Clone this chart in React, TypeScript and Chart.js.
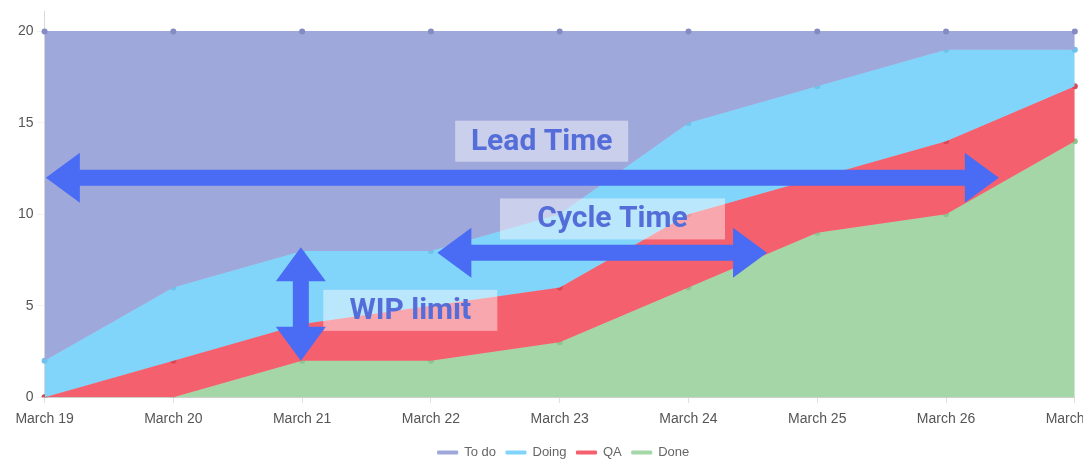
import React, { useEffect, useRef } from "react";
import { Chart, registerables } from "chart.js";

Chart.register(...registerables);

// ---- data (cumulative totals) ----
const categories = [
  "March 19",
  "March 20",
  "March 21",
  "March 22",
  "March 23",
  "March 24",
  "March 25",
  "March 26",
  "March 27",
];
const todoValues = [20, 20, 20, 20, 20, 20, 20, 20, 20];
const doingValues = [2, 6, 8, 8, 10, 15, 17, 19, 19];
const qaValues = [0, 2, 4, 5, 6, 10, 12, 14, 17];
const doneValues = [0, 0, 2, 2, 3, 6, 9, 10, 14];
const seriesNames = ["To do", "Doing", "QA", "Done"];
const yTickValues = [0, 5, 10, 15, 20];

// annotation arrows in data space (x = category index, y = value)
const arrowNames = ["Lead Time", "Cycle Time", "WIP limit"];
const arrowFromX = [0.01, 3.05, 1.99];
const arrowFromY = [12, 7.9, 8.2];
const arrowToX = [7.41, 5.61, 1.99];
const arrowToY = [12, 7.9, 2.0];

// annotation labels in data space
const noteTexts = ["Lead Time", "Cycle Time", "WIP limit"];
const noteX = [3.86, 4.41, 2.84];
const noteY = [14.0, 9.75, 4.75];

const COLORS = {
  todo: "#9fa8da",
  doing: "#81d4fa",
  qa: "#f5606e",
  done: "#a5d6a7",
};
const POINT_COLORS = ["#858cc4", "#6cc3ec", "#dc4656", "#8cc690"];
const NOTE_BOX_W = [173, 225, 174];
const ARROW_COLOR = "#4a6cf4";
const TEXT_COLOR = "#556dd8";

function drawArrow(
  ctx: CanvasRenderingContext2D,
  x1: number,
  y1: number,
  x2: number,
  y2: number,
  shaft: number,
  headLen: number,
  headHalf: number
) {
  const dx = x2 - x1;
  const dy = y2 - y1;
  const len = Math.hypot(dx, dy);
  const ux = dx / len;
  const uy = dy / len;
  const nx = -uy;
  const ny = ux;
  const pts: [number, number][] = [
    [x1, y1],
    [x1 + ux * headLen + nx * headHalf, y1 + uy * headLen + ny * headHalf],
    [x1 + ux * headLen + nx * shaft, y1 + uy * headLen + ny * shaft],
    [x2 - ux * headLen + nx * shaft, y2 - uy * headLen + ny * shaft],
    [x2 - ux * headLen + nx * headHalf, y2 - uy * headLen + ny * headHalf],
    [x2, y2],
    [x2 - ux * headLen - nx * headHalf, y2 - uy * headLen - ny * headHalf],
    [x2 - ux * headLen - nx * shaft, y2 - uy * headLen - ny * shaft],
    [x1 + ux * headLen - nx * shaft, y1 + uy * headLen - ny * shaft],
    [x1 + ux * headLen - nx * headHalf, y1 + uy * headLen - ny * headHalf],
  ];
  ctx.beginPath();
  ctx.moveTo(pts[0][0], pts[0][1]);
  for (let i = 1; i < pts.length; i++) ctx.lineTo(pts[i][0], pts[i][1]);
  ctx.closePath();
  ctx.fillStyle = ARROW_COLOR;
  ctx.fill();
}

const notesPlugin = {
  id: "flowNotes",
  afterDraw(chart: any) {
    const ctx: CanvasRenderingContext2D = chart.ctx;
    const xs = chart.scales.x;
    const ys = chart.scales.y;
    ctx.save();
    for (let i = 0; i < noteTexts.length; i++) {
      const cx = xs.getPixelForValue(noteX[i]);
      const cy = ys.getPixelForValue(noteY[i]);
      const w = NOTE_BOX_W[i];
      const h = 41;
      ctx.fillStyle = "rgba(255,255,255,0.45)";
      ctx.fillRect(cx - w / 2, cy - h / 2, w, h);
    }
    for (let i = 0; i < arrowNames.length; i++) {
      const x1 = xs.getPixelForValue(arrowFromX[i]);
      const y1 = ys.getPixelForValue(arrowFromY[i]);
      const x2 = xs.getPixelForValue(arrowToX[i]);
      const y2 = ys.getPixelForValue(arrowToY[i]);
      drawArrow(ctx, x1, y1, x2, y2, 8, 34, 25);
    }
    ctx.font = "bold 30px Roboto, 'Liberation Sans', sans-serif";
    ctx.textAlign = "center";
    ctx.textBaseline = "middle";
    ctx.fillStyle = TEXT_COLOR;
    for (let i = 0; i < noteTexts.length; i++) {
      const cx = xs.getPixelForValue(noteX[i]);
      const cy = ys.getPixelForValue(noteY[i]);
      ctx.fillText(noteTexts[i], cx, cy + 1);
    }
    ctx.restore();
  },
};

export default function App() {
  const canvasRef = useRef<HTMLCanvasElement | null>(null);

  useEffect(() => {
    const canvas = canvasRef.current;
    if (!canvas) return;
    const base = (label: string, data: number[], color: string, pc: string, fill: any) => ({
      label,
      data,
      backgroundColor: color,
      borderColor: color,
      borderWidth: 1,
      fill,
      pointRadius: 3,
      pointBackgroundColor: pc,
      pointBorderColor: pc,
      pointBorderWidth: 0,
      tension: 0,
    });
    const chart = new Chart(canvas, {
      type: "line",
      data: {
        labels: categories,
        datasets: [
          base(seriesNames[0], todoValues, COLORS.todo, POINT_COLORS[0], "+1"),
          base(seriesNames[1], doingValues, COLORS.doing, POINT_COLORS[1], "+1"),
          base(seriesNames[2], qaValues, COLORS.qa, POINT_COLORS[2], "+1"),
          base(seriesNames[3], doneValues, COLORS.done, POINT_COLORS[3], "origin"),
        ],
      },
      options: {
        responsive: false,
        animation: false,
        layout: { padding: { left: 15, top: 0, right: 0, bottom: -8 } },
        plugins: {
          legend: {
            position: "bottom",
            labels: {
              boxWidth: 20,
              boxHeight: 3,
              padding: 10,
              color: "#666",
              font: { family: "'Liberation Sans', Arial, sans-serif", size: 13 },
            },
          },
          tooltip: { enabled: false },
        },
        scales: {
          x: {
            grid: {
              drawOnChartArea: false,
              drawTicks: true,
              tickLength: 6,
              color: "rgba(0,0,0,0.12)",
            },
            border: { color: "rgba(0,0,0,0.15)" },
            ticks: {
              autoSkip: false,
              maxRotation: 0,
              color: "#555",
              padding: 8,
              font: { family: "'Liberation Sans', Arial, sans-serif", size: 14 },
            },
          },
          y: {
            min: 0,
            max: 21.1,
            z: 1,
            afterBuildTicks: (scale: any) => {
              scale.ticks = yTickValues.map((v) => ({ value: v }));
            },
            grid: {
              color: "rgba(0,0,0,0.05)",
              tickLength: 8,
            },
            border: { color: "rgba(0,0,0,0.15)" },
            ticks: {
              color: "#555",
              padding: 3,
              font: { family: "'Liberation Sans', Arial, sans-serif", size: 14 },
            },
          },
        },
      },
      plugins: [notesPlugin],
    });
    return () => chart.destroy();
  }, []);

  return (
    <div
      style={{
        position: "fixed",
        left: 0,
        top: 0,
        width: 1083,
        height: 461,
        overflow: "hidden",
        background: "#fff",
      }}
    >
      <canvas
        ref={canvasRef}
        width={1112}
        height={461}
        style={{ width: 1112, height: 461, display: "block" }}
      />
    </div>
  );
}
